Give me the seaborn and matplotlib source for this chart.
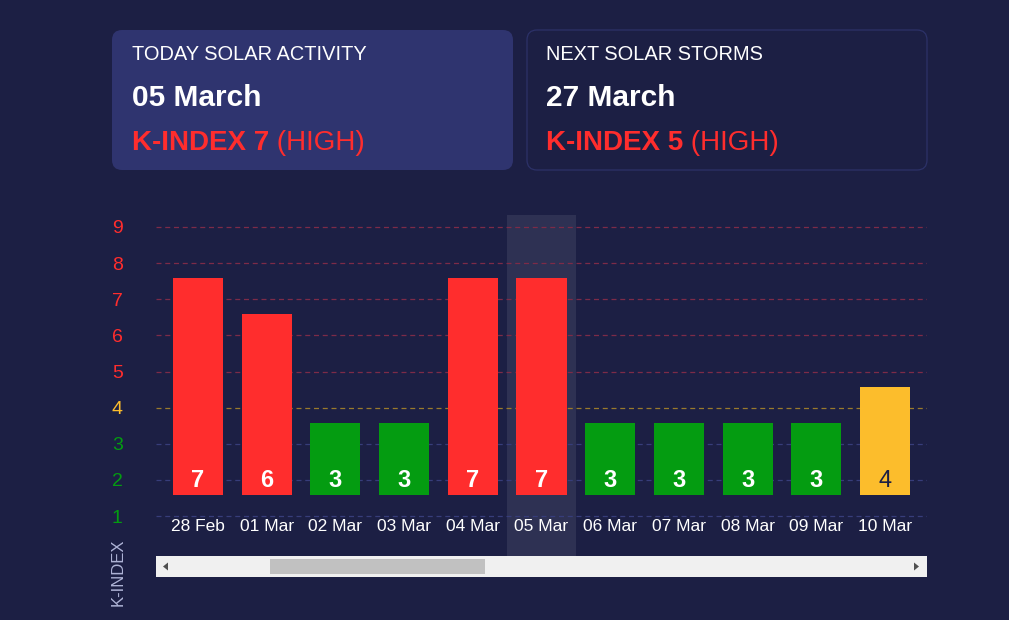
import matplotlib
matplotlib.use("Agg")
import matplotlib.pyplot as plt
from matplotlib.patches import FancyBboxPatch, Rectangle, Polygon
import seaborn as sns
import pandas as pd

# ---- data ----
dates = ["28 Feb", "01 Mar", "02 Mar", "03 Mar", "04 Mar", "05 Mar",
         "06 Mar", "07 Mar", "08 Mar", "09 Mar", "10 Mar"]
kindex = [7, 6, 3, 3, 7, 7, 3, 3, 3, 3, 4]
ytick_values = [1, 2, 3, 4, 5, 6, 7, 8, 9]
today_label = "05 Mar"
card1_title, card1_date, card1_k = "TODAY SOLAR ACTIVITY", "05 March", 7
card2_title, card2_date, card2_k = "NEXT SOLAR STORMS", "27 March", 5
card_level = "(HIGH)"

# ---- style ----
BG = "#1c1f44"
CARD = "#2f346f"
RED = "#ff2d2d"
YELLOW = "#fcbd2c"
GREEN = "#049c11"
BAND = "#2e3153"
BASE = 1.58


def level(k):
    return "high" if k >= 5 else ("mid" if k == 4 else "low")


palette = {"high": RED, "mid": YELLOW, "low": GREEN}
grid_cols = {"high": "#7d2b48", "mid": "#9a7a2c", "low": "#373d7a"}

sns.set_theme(style="dark")
plt.rcParams["font.family"] = ["Liberation Sans", "DejaVu Sans"]

fig = plt.figure(figsize=(10.09, 6.2), dpi=100, facecolor=BG)

# overlay axes in pixel units
bg = fig.add_axes([0, 0, 1, 1])
bg.set_xlim(0, 1009)
bg.set_ylim(620, 0)
bg.axis("off")
bg.set_facecolor(BG)

# cards
bg.add_patch(FancyBboxPatch((112, 30), 401, 140,
                            boxstyle="round,pad=0,rounding_size=10",
                            fc=CARD, ec="none"))
bg.add_patch(FancyBboxPatch((527, 30), 400, 140,
                            boxstyle="round,pad=0,rounding_size=10",
                            fc=BG, ec="#2c3168", lw=0.9))


def card_text(x, title, date, k):
    bg.text(x, 60, title, color="white", fontsize=14.4, va="baseline", ha="left")
    bg.text(x, 106, date, color="white", fontsize=21.5, fontweight="bold",
            va="baseline", ha="left")
    t = bg.text(x, 150, f"K-INDEX {k}", color=RED, fontsize=20, fontweight="bold",
                va="baseline", ha="left")
    bg.annotate(" " + card_level, xy=(1, 0), xycoords=t, color=RED, fontsize=20,
                va="bottom", ha="left")


card_text(132, card1_title, card1_date, card1_k)
card_text(546, card2_title, card2_date, card2_k)

# y label
bg.text(118, 572, "K-INDEX", rotation=90, color="#aeb3d6", fontsize=12,
        ha="center", va="center")

# scrollbar
bg.add_patch(Rectangle((156, 556), 771, 21, fc="#f0f0f0", ec="none"))
bg.add_patch(Rectangle((270, 559), 215, 15, fc="#c1c1c1", ec="none"))
bg.add_patch(Polygon([(163, 566.5), (168, 562.5), (168, 570.5)], fc="#505050", ec="none"))
bg.add_patch(Polygon([(919, 566.5), (914, 562.5), (914, 570.5)], fc="#505050", ec="none"))

# ---- chart ----
ax = fig.add_axes([156 / 1009, 1 - 556 / 620, 771 / 1009, 341 / 620])
ax.set_facecolor("none")

df = pd.DataFrame({
    "date": dates,
    "k": kindex,
    "level": [level(k) for k in kindex],
    "height": [k - 1 for k in kindex],
})

sns.barplot(data=df, x="date", y="height", hue="level", palette=palette,
            dodge=False, width=0.73, legend=False, ax=ax, zorder=2,
            saturation=1, edgecolor="none", linewidth=0)
for cont in ax.containers:
    for p in cont.patches:
        p.set_y(BASE)

ax.set_xlim(-0.61, 10.61)
ax.set_ylim(-0.107, 9.332)

ti = dates.index(today_label)
ax.axvspan(ti - 0.5, ti + 0.5, color=BAND, zorder=0.3, lw=0)

for v in ytick_values:
    ax.axhline(v, color=grid_cols[level(v)], ls=(0, (4, 3)), lw=0.9, zorder=0.8)

for i, k in enumerate(kindex):
    if level(k) == "mid":
        ax.text(i, 1.97, str(k), ha="center", va="center", color=BG,
                fontsize=17, zorder=3)
    else:
        ax.text(i, 1.97, str(k), ha="center", va="center", color="white",
                fontsize=17, fontweight="bold", zorder=3)

ax.set_yticks(ytick_values)
ax.set_yticklabels([str(v) for v in ytick_values])
for lbl, v in zip(ax.get_yticklabels(), ytick_values):
    lbl.set_color(palette[level(v)])
ax.tick_params(axis="y", length=0, pad=24, labelsize=14)
ax.tick_params(axis="x", length=0, pad=-26.5, labelsize=12.5, labelcolor="white")
ax.set_xlabel("")
ax.set_ylabel("")
ax.grid(False)
for s in ax.spines.values():
    s.set_visible(False)

fig.savefig("out.png", dpi=100, facecolor=BG)
